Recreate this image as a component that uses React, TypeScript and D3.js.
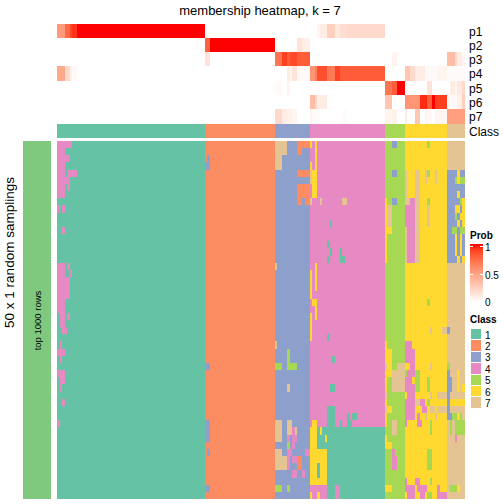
import React from "react";
import * as d3 from "d3";

const CLASS_IDS = ["1", "2", "3", "4", "5", "6", "7"];
const CLASS_COLORS = ["#66C2A5", "#FC8D62", "#8DA0CB", "#E78AC3", "#A6D854", "#FFD92F", "#E5C494"];
const COLUMN_COUNT = 163;
const ROW_COUNT = 50;
const CLASS_SIZES = [59, 28, 14, 30, 8, 17, 7];
const PROB_ROWS = ["p1", "p2", "p3", "p4", "p5", "p6", "p7"];
const PROB_TICKS = [1, 0.5, 0];

// [start column, end column, membership probability]
const P1 = [[0,3,.52],[3,5,.75],[5,6,.88],[6,8,.93],[8,59,1],[104,105,.06],[105,108,.1],[108,111,.25],[111,113,.12],[113,116,.18],[116,120,.2],[120,131,.2]];
const P2 = [[59,61,.78],[61,87,1],[96,98,.15],[98,99,.1],[99,101,.08]];
const P3 = [[59,61,.15],[87,90,.7],[90,92,.9],[92,93,.8],[93,96,.87],[96,101,.8],[134,136,.06],[156,159,.35],[159,160,.2],[160,162,.1],[162,163,.05]];
const P4 = [[0,3,.45],[3,5,.2],[5,6,.08],[6,8,.03],[92,93,.1],[93,94,.05],[94,96,.15],[96,101,.03],[101,103,.55],[103,104,.65],[104,108,.85],[108,111,.68],[111,113,.88],[113,131,.8],[139,141,.3],[141,143,.2],[143,147,.1],[147,152,.03],[152,156,.05],[156,163,.02]];
const P5 = [[87,90,.03],[92,93,.06],[131,134,.7],[134,136,.8],[136,139,1],[148,150,.15],[157,159,.1],[159,160,.05],[160,162,.12],[162,163,.2]];
const P6 = [[101,103,.35],[103,104,.2],[104,108,.1],[131,134,.3],[139,145,.55],[145,148,.95],[148,150,.8],[150,151,1],[151,156,.9],[156,160,.03],[160,162,.08],[162,163,.25]];
const P7 = [[87,90,.2],[90,92,.1],[92,94,.08],[94,96,.05],[101,102,.05],[102,105,.02],[114,116,.02],[131,134,.06],[134,136,.08],[139,140,.1],[143,145,.3],[147,148,.06],[148,150,.04],[151,156,.05],[156,163,.5]];
const PROB_RUNS = [P1, P2, P3, P4, P5, P6, P7];

// [first row, end row, start column, end column, class] deviations of the sampled classes
const GROUP1_CELLS = [
  [0,1,0,6,4],[1,2,0,3,4],[2,3,0,5,4],[3,4,0,3,4],[4,5,0,3,4],[4,5,4,8,4],[5,6,0,5,4],[6,7,0,3,4],[6,7,4,5,4],[7,8,0,3,4],
  [9,10,0,1,4],[9,10,2,3,4],[12,13,2,3,4],[17,18,0,3,4],[17,18,4,5,4],[18,19,0,3,4],[18,19,5,6,4],[19,22,0,5,4],[22,24,0,3,4],
  [24,25,1,3,4],[24,25,4,5,4],[25,26,1,3,4],[26,27,2,4,4],[28,29,1,2,4],[29,30,0,3,4],[30,31,1,2,4],[32,33,0,3,4],[33,34,1,3,4],
  [34,35,1,2,4],[36,37,2,3,4],[39,40,0,1,4],
];
const GROUP2_CELLS = [[2,3,60,61,3],[3,4,59,61,3],[31,32,59,61,3],[39,42,59,61,3],[43,44,60,61,3],[48,49,59,61,3]];
const GROUP34_BLOCK = [[40,50,104,131,1]];
const GROUP34_CELLS = [
  [0,1,87,92,7],[0,1,96,101,2],[0,1,101,102,6],[0,1,103,104,6],[1,2,87,92,7],[1,2,96,98,2],[1,2,103,104,6],
  [2,3,87,90,7],[2,3,103,104,6],[3,4,87,90,7],[3,4,101,102,6],[3,4,103,104,6],
  [4,5,96,101,2],[4,6,101,102,7],[4,6,102,104,6],[6,8,96,101,2],[6,8,102,104,6],
  [8,9,96,98,2],[8,9,99,101,2],[8,9,101,102,7],[8,9,105,106,7],[8,9,114,116,7],
  [11,12,109,110,1],[14,15,108,109,1],[15,16,109,110,1],[15,16,113,114,1],[16,17,108,109,1],[16,17,113,115,1],
  [17,18,87,88,7],[17,18,103,104,6],[18,21,101,102,6],[18,21,103,104,6],[21,22,101,102,6],[22,23,102,104,6],[23,24,103,104,6],
  [24,25,101,102,6],[24,25,103,104,6],[25,28,101,102,6],[27,28,108,109,1],[28,29,87,88,7],[29,31,92,93,5],[30,31,110,111,1],
  [31,32,87,90,5],[31,32,92,96,5],[34,35,92,93,7],[34,35,109,111,1],[37,40,108,111,1],[38,39,116,117,1],[38,39,118,120,1],
  [39,40,113,114,1],[39,40,116,118,1],[39,40,87,90,7],[39,40,92,94,7],[39,40,102,104,6],
  [40,41,87,90,7],[40,41,92,94,7],[40,41,94,95,4],[40,41,95,96,7],[40,41,101,104,6],[40,41,105,106,6],
  [41,42,87,90,7],[41,42,92,93,4],[41,42,94,96,4],[41,42,101,104,6],[41,42,107,108,6],
  [42,43,92,93,5],[42,43,94,95,4],[42,43,101,104,6],
  [43,44,87,90,7],[43,44,92,94,4],[43,44,99,101,4],[43,44,101,108,6],
  [44,46,87,92,7],[44,46,92,93,4],[44,45,94,96,4],[44,46,96,98,2],[44,45,101,108,6],[45,47,101,104,6],[45,47,105,108,6],
  [46,47,94,96,4],[46,47,98,99,4],[47,48,101,108,6],
  [48,49,87,90,5],[48,49,92,93,5],[48,50,111,113,4],[48,49,101,108,4],
  [49,50,101,102,6],[49,50,102,104,4],[49,50,104,105,6],[49,50,105,108,4],
];
const GROUP567_CELLS = [
  [0,1,134,136,3],[0,1,148,149,5],
  [4,5,134,136,3],[4,6,139,140,7],[4,6,143,145,7],[4,6,147,148,7],[4,5,148,149,5],[4,6,151,152,7],[4,5,156,160,3],[4,6,160,161,6],[4,5,161,163,3],
  [5,6,156,159,3],[5,6,159,160,5],[5,6,161,163,5],
  [6,8,139,140,7],[6,8,143,145,7],[6,7,156,163,3],[7,8,156,160,3],[7,8,160,161,6],[7,8,161,163,3],
  [8,9,131,132,6],[8,9,134,136,3],[8,9,139,141,7],[8,9,141,143,4],[8,9,143,145,7],[8,9,148,149,5],[8,9,156,161,3],[8,9,161,162,5],[8,9,162,163,6],
  [9,12,131,132,6],[9,12,132,134,7],[9,12,139,143,4],[9,12,143,145,7],[9,12,148,149,7],
  [9,10,156,159,3],[9,10,159,161,6],[9,10,161,162,3],[9,10,162,163,6],
  [10,11,156,159,3],[10,11,159,160,5],[10,11,160,161,3],[10,11,161,163,6],
  [11,12,156,160,3],[11,12,160,161,6],[11,12,161,162,3],[11,12,162,163,6],
  [12,13,131,134,6],[12,13,139,140,7],[12,13,140,143,4],[12,13,143,145,7],[12,13,156,158,3],[12,13,158,160,5],[12,13,160,161,3],[12,13,161,163,5],
  [13,17,131,132,6],[13,17,139,140,7],[13,17,140,143,4],[13,17,143,145,7],
  [13,16,156,159,3],[13,16,159,160,6],[13,16,160,161,3],[13,16,161,162,6],[13,16,162,163,3],
  [16,17,156,160,3],[16,17,160,161,6],[16,17,161,162,3],[16,17,162,163,6],
  [22,23,148,149,5],
  [26,27,149,150,7],[26,27,154,156,7],[26,27,156,157,3],
  [28,29,131,132,6],[28,29,139,142,4],[29,31,131,134,6],[29,31,139,143,4],
  [31,32,131,132,7],[31,32,132,134,6],[31,32,136,139,7],[31,32,139,141,6],[31,32,141,143,4],[31,32,149,150,7],[31,32,156,157,5],
  [32,33,131,134,6],[32,35,134,139,7],[32,33,139,140,5],[32,33,140,143,4],[32,35,143,145,5],[32,33,156,157,3],[32,35,160,161,6],
  [33,34,131,132,6],[33,34,139,142,4],[33,34,142,143,6],[33,35,148,149,5],[33,35,156,158,3],
  [34,35,131,132,6],[34,35,139,143,4],[34,35,162,163,6],
  [35,36,131,132,7],[35,36,139,140,6],[35,36,140,143,4],[35,36,149,150,7],[35,36,152,156,7],[35,36,156,157,3],
  [36,37,131,132,6],[36,37,139,143,4],[36,37,143,145,7],[36,37,145,147,4],[36,37,148,149,5],[36,37,156,157,3],[36,37,157,163,6],
  [37,38,131,132,7],[37,38,132,134,6],[37,38,139,143,4],[37,38,146,148,4],[37,38,149,151,7],[37,38,152,156,7],[37,38,156,157,3],
  [38,39,131,132,6],[38,39,139,143,4],[38,39,144,145,4],[38,39,147,148,7],[38,39,151,152,7],[38,39,156,158,3],[38,39,158,160,5],[38,39,160,161,6],[38,39,161,162,5],
  [39,40,131,132,6],[39,41,134,136,7],[39,40,139,140,4],[39,40,144,146,4],[39,41,149,150,5],[39,41,157,158,5],[39,41,159,163,5],
  [41,42,131,132,6],[41,42,159,160,4],[42,43,131,134,6],
  [43,44,134,135,4],[44,46,134,136,4],[43,46,148,150,5],
  [47,48,139,140,4],[47,48,143,145,4],[47,48,149,150,5],
  [48,49,131,134,6],[48,49,139,143,4],[48,49,144,148,4],[48,49,152,153,4],[48,49,157,160,5],[48,49,160,161,6],
  [49,50,140,143,4],[49,50,145,147,4],[49,50,148,150,5],[49,50,152,156,4],
];
const SAMPLED_CELLS = [...GROUP1_CELLS, ...GROUP2_CELLS, ...GROUP34_BLOCK, ...GROUP34_CELLS, ...GROUP567_CELLS];

const baseClasses: number[] = CLASS_SIZES.flatMap((n, i) => Array(n).fill(i + 1));
const classGrid: number[][] = d3.range(ROW_COUNT).map(() => baseClasses.slice());
SAMPLED_CELLS.forEach(([r0, r1, c0, c1, k]) => {
  for (let r = r0; r < r1; r++) for (let c = c0; c < c1; c++) classGrid[r][c] = k;
});

const x = d3.scaleLinear().domain([0, COLUMN_COUNT]).range([57, 465]);
const yRow = d3.scaleLinear().domain([0, ROW_COUNT]).range([141, 499]);
const yProb = d3.scaleLinear().domain([0, PROB_ROWS.length]).range([24, 124]);
const probColor = d3.scaleLinear<string>().domain([0, 1]).range(["#ffffff", "#ff0000"]).interpolate(d3.interpolateLab);
const classColor = d3.scaleOrdinal<number, string>().domain([1, 2, 3, 4, 5, 6, 7]).range(CLASS_COLORS);
const yLegend = d3.scaleLinear().domain([1, 0]).range([246, 301]);

const px = (c: number) => Math.round(x(c));
const FONT = "'Liberation Sans', Arial, sans-serif";

function runsOf(row: number[]) {
  const runs: { start: number; end: number; k: number }[] = [];
  row.forEach((k, c) => {
    const last = runs[runs.length - 1];
    if (last && last.k === k) last.end = c + 1;
    else runs.push({ start: c, end: c + 1, k });
  });
  return runs;
}

export default function App() {
  const classRuns = runsOf(baseClasses);
  return (
    <svg width={504} height={504} style={{ position: "absolute", left: 0, top: 0, fontFamily: FONT }} shapeRendering="crispEdges">
      <defs>
        <linearGradient id="probGrad" x1="0" x2="0" y1="0" y2="1">
          {d3.range(0, 1.01, 0.1).map((t) => (
            <stop key={t} offset={t} stopColor={probColor(1 - t)} />
          ))}
        </linearGradient>
      </defs>
      <text x={260} y={14.5} textAnchor="middle" fontSize={13} shapeRendering="auto">membership heatmap, k = 7</text>

      {PROB_RUNS.map((runs, i) => {
        const y0 = Math.floor(yProb(i));
        const y1 = Math.floor(yProb(i + 1));
        return (
          <g key={i}>
            {runs.map(([c0, c1, v]) => (
              <rect key={c0} x={px(c0)} width={px(c1) - px(c0)} y={y0} height={y1 - y0} fill={probColor(v)} />
            ))}
            <text x={469} y={(y0 + y1) / 2 + 4.5} fontSize={12}>{PROB_ROWS[i]}</text>
          </g>
        );
      })}
      {classRuns.map((r) => (
        <rect key={r.start} x={px(r.start)} width={px(r.end) - px(r.start)} y={124} height={14} fill={classColor(r.k)} />
      ))}
      <text x={469} y={136} fontSize={12}>Class</text>

      <rect x={23} y={141} width={28} height={358} fill="#7FC97F" />
      <text transform="translate(14,252.5) rotate(-90)" textAnchor="middle" fontSize={13.5}>50 x 1 random samplings</text>
      <text transform="translate(41,320.5) rotate(-90)" textAnchor="middle" fontSize={9.5}>top 1000 rows</text>

      {classGrid.map((row, r) => {
        const y0 = Math.round(yRow(r));
        const y1 = Math.round(yRow(r + 1));
        return (
          <g key={r}>
            {runsOf(row).map((s) => (
              <rect key={s.start} x={px(s.start)} width={px(s.end) - px(s.start)} y={y0} height={y1 - y0} fill={classColor(s.k)} />
            ))}
          </g>
        );
      })}

      <text x={470} y={239} fontSize={10} fontWeight="bold">Prob</text>
      <rect x={470} y={244} width={13} height={58} fill="url(#probGrad)" />
      {PROB_TICKS.map((t) => (
        <g key={t}>
          <rect x={470} y={yLegend(t)} width={3} height={1} fill="#ffffff" />
          <rect x={480} y={yLegend(t)} width={3} height={1} fill="#ffffff" />
          <text x={485} y={yLegend(t) + 5} fontSize={10}>{t}</text>
        </g>
      ))}

      <text x={470} y={323} fontSize={10} fontWeight="bold">Class</text>
      {CLASS_IDS.map((id, i) => (
        <g key={id}>
          <rect x={471} y={329 + i * 11.4} width={10} height={10.4} fill={CLASS_COLORS[i]} />
          <text x={485} y={338.5 + i * 11.4} fontSize={10}>{id}</text>
        </g>
      ))}
    </svg>
  );
}
